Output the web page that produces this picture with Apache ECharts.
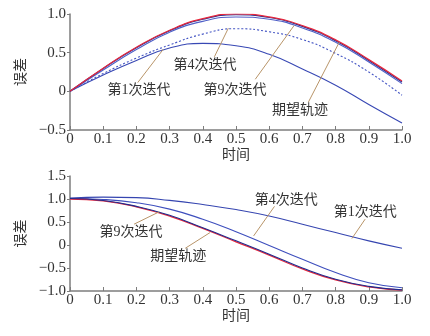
<!DOCTYPE html>
<html><head><meta charset="utf-8">
<script src="https://cdn.jsdelivr.net/npm/echarts@6/dist/echarts.min.js"></script>
<style>html,body{margin:0;padding:0;background:#fff}#c{width:430px;height:336px}</style>
</head><body><div id="c"></div>
<script>
// time samples
var t = [0, 0.1, 0.2, 0.3, 0.4, 0.5, 0.6, 0.7, 0.8, 0.9, 1.0];
// top plot values
var desiredTop = [0, 0.30, 0.57, 0.79, 0.94, 1.0, 0.962, 0.85, 0.665, 0.41, 0.135];
var nearTop    = [0, 0.295, 0.563, 0.783, 0.932, 0.99, 0.955, 0.84, 0.655, 0.40, 0.12];
var iter9Top   = [0, 0.275, 0.54, 0.765, 0.905, 0.962, 0.932, 0.82, 0.635, 0.38, 0.10];
var iter4Top   = [0, 0.23, 0.43, 0.60, 0.74, 0.81, 0.77, 0.67, 0.49, 0.25, -0.05];
var iter1Top   = [0, 0.21, 0.40, 0.56, 0.62, 0.59, 0.48, 0.29, 0.08, -0.17, -0.41];
// bottom plot values
var desiredBot = [1.0, 0.96, 0.83, 0.63, 0.36, 0.07, -0.22, -0.52, -0.76, -0.91, -0.98];
var iter9Bot   = [1.01, 0.967, 0.84, 0.645, 0.375, 0.09, -0.20, -0.50, -0.745, -0.90, -0.975];
var iter4Bot   = [1.01, 0.99, 0.92, 0.78, 0.56, 0.29, -0.01, -0.31, -0.60, -0.82, -0.93];
var iter1Bot   = [1.02, 1.04, 1.03, 0.97, 0.88, 0.77, 0.63, 0.45, 0.27, 0.09, -0.07];
// tick settings
var xTicks = {min: 0, max: 1, interval: 0.1};
var yTopTicks = {min: -0.5, max: 1.0, interval: 0.5};
var yBotTicks = {min: -1.0, max: 1.5, interval: 0.5};
var xName = '时间', yName = '误差';
// annotations: [grid, text, textX, textY, lineX1, lineY1, lineX2, lineY2] (data coords)
var annotations = [
  [0, '第1次迭代', 0.208, 0.013, 0.204, 0.113, 0.281, 0.544],
  [0, '第4次迭代', 0.407, 0.339, 0.435, 0.447, 0.477, 0.817],
  [0, '第9次迭代', 0.497, 0.013, 0.558, 0.156, 0.675, 0.851],
  [0, '期望轨迹', 0.693, -0.248, 0.718, -0.14, 0.811, 0.635],
  [1, '第9次迭代', 0.184, 0.278, 0.193, 0.453, 0.269, 0.722],
  [1, '期望轨迹', 0.326, -0.247, 0.347, -0.072, 0.422, 0.271],
  [1, '第4次迭代', 0.651, 0.978, 0.616, 0.840, 0.553, 0.197],
  [1, '第1次迭代', 0.889, 0.716, 0.889, 0.562, 0.849, 0.140]
];

function pairs(ys){ return t.map(function(x,i){ return [x, ys[i]]; }); }
var SERIF = '"Liberation Serif", "Noto Sans CJK SC", serif';
var axisCol = '#7d7d7d';
function fmt(v){ if (Math.abs(v) < 1e-9) return '0'; return v.toFixed(1).replace('-', '\u2212'); }
function xAxis(gi){
  return {type:'value', gridIndex:gi, min:xTicks.min, max:xTicks.max, interval:xTicks.interval,
    name:xName, nameLocation:'middle', nameGap:17,
    nameTextStyle:{fontFamily:SERIF, fontSize:14, color:'#333'},
    axisLine:{show:true, onZero:false, lineStyle:{color:axisCol, width:1.5}},
    axisTick:{show:true, inside:true, length:4, lineStyle:{color:axisCol}},
    axisLabel:{formatter:fmt, fontFamily:SERIF, fontSize:15, color:'#333', margin:2},
    splitLine:{show:false}};
}
function yAxis(gi, tk){
  return {type:'value', gridIndex:gi, min:tk.min, max:tk.max, interval:tk.interval,
    name:yName, nameLocation:'middle', nameGap:34, nameRotate:90,
    nameTextStyle:{fontFamily:SERIF, fontSize:14, color:'#333'},
    axisLine:{show:true, onZero:false, lineStyle:{color:axisCol, width:1.5}},
    axisTick:{show:true, inside:false, length:3, lineStyle:{color:axisCol}},
    axisLabel:{formatter:fmt, fontFamily:SERIF, fontSize:15, color:'#333', margin:4},
    splitLine:{show:false}};
}
function line(gi, ys, color, width, type){
  return {type:'line', xAxisIndex:gi, yAxisIndex:gi, data:pairs(ys), smooth:true, symbol:'none',
    silent:true, lineStyle:{color:color, width:width, type:type||'solid'}, z:2};
}
var chart = echarts.init(document.getElementById('c'), null, {renderer:'canvas'});
chart.setOption({
  animation:false,
  grid:[{left:70, right:28, top:14, height:116}, {left:70, right:28, top:176, height:115}],
  xAxis:[xAxis(0), xAxis(1)],
  yAxis:[yAxis(0, yTopTicks), yAxis(1, yBotTicks)],
  series:[
    line(0, iter1Top, '#3848b4', 1.1),
    line(0, iter4Top, '#4556c4', 1.1, [2,2]),
    line(0, iter9Top, '#5060c8', 1.1),
    line(0, nearTop, '#1e2c8e', 1.2),
    line(0, desiredTop, '#e8283c', 1.2),
    line(1, iter1Bot, '#3545b0', 1.1),
    line(1, iter4Bot, '#3d4ebd', 1.1),
    line(1, desiredBot, '#e8283c', 1.3),
    line(1, iter9Bot, '#1e2c8e', 1.1)
  ]
});
var g = [];
annotations.forEach(function(a){
  var gi = a[0];
  var p = chart.convertToPixel({gridIndex:gi}, [a[2], a[3]]);
  var p1 = chart.convertToPixel({gridIndex:gi}, [a[4], a[5]]);
  var p2 = chart.convertToPixel({gridIndex:gi}, [a[6], a[7]]);
  g.push({type:'line', shape:{x1:p1[0], y1:p1[1], x2:p2[0], y2:p2[1]}, style:{stroke:'#b89468', lineWidth:1}, z:5, silent:true});
  g.push({type:'text', x:p[0], y:p[1], style:{text:a[1], fill:'#333', font:'14px ' + SERIF, align:'center', verticalAlign:'middle'}, z:6, silent:true});
});
chart.setOption({graphic:g});
</script>
</body></html>
